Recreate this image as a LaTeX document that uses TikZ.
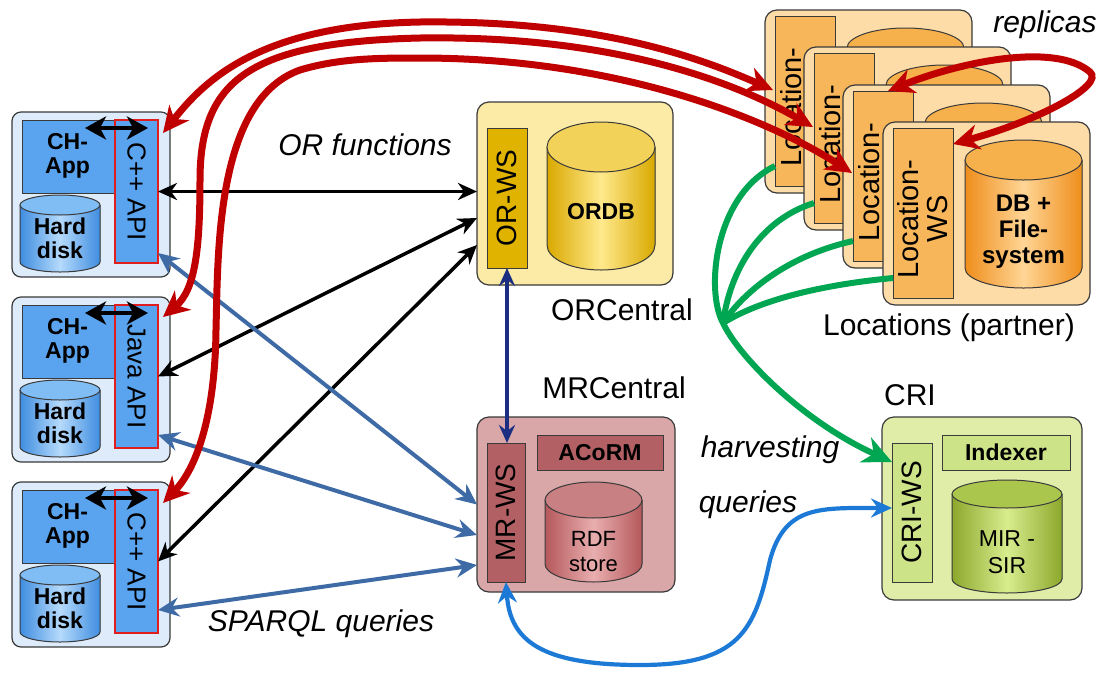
\documentclass[tikz,border=0pt]{standalone}
\usepackage{fontspec}
\setmainfont{Liberation Sans}
\usetikzlibrary{arrows.meta}

\definecolor{frame}{HTML}{3A3A3A}
\definecolor{chbg}{HTML}{DDEBFA}
\definecolor{chblue}{HTML}{5AA3EE}
\definecolor{apired}{HTML}{E01E1E}
\definecolor{diskedge}{HTML}{3F8DE0}
\definecolor{diskmid}{HTML}{B5DAFB}
\definecolor{disktop}{HTML}{80BDF5}
\definecolor{orbg}{HTML}{FCEBA6}
\definecolor{orwsc}{HTML}{E0B300}
\definecolor{oredge}{HTML}{D9A900}
\definecolor{ormid}{HTML}{FFE98C}
\definecolor{ortop}{HTML}{F3D25A}
\definecolor{mrbg}{HTML}{D9A7A8}
\definecolor{mrwsc}{HTML}{B36064}
\definecolor{mredge}{HTML}{B5585B}
\definecolor{mrmid}{HTML}{E9AEAF}
\definecolor{mrtop}{HTML}{C98082}
\definecolor{locbg}{HTML}{FDDCA8}
\definecolor{locwsc}{HTML}{F8B65A}
\definecolor{locedge}{HTML}{EF8E1C}
\definecolor{locmid}{HTML}{FFD595}
\definecolor{loctop}{HTML}{F6B04C}
\definecolor{cribg}{HTML}{DFEDA8}
\definecolor{criwsc}{HTML}{CDE387}
\definecolor{criedge}{HTML}{8CA82C}
\definecolor{crimid}{HTML}{D8EC8E}
\definecolor{critop}{HTML}{AAC64C}
\definecolor{arred}{HTML}{C00000}
\definecolor{arsteel}{HTML}{3E6BA5}
\definecolor{arnavy}{HTML}{1B2E82}
\definecolor{arblue}{HTML}{1C7AD6}
\definecolor{argreen}{HTML}{00A651}

\tikzset{
  outerbox/.style={draw=frame, line width=1.2pt},
  inbox/.style={draw=frame, line width=1pt},
  cylline/.style={draw=frame, line width=1pt},
  bt/.style={font=\fontsize{23}{24}\selectfont\bfseries, align=center, inner sep=0pt},
  rt/.style={font=\fontsize{26}{28}\selectfont, align=center, inner sep=0pt},
  lbl/.style={font=\fontsize{30}{32}\selectfont, inner sep=0pt},
  ilbl/.style={font=\fontsize{30}{32}\selectfont\itshape, inner sep=0pt},
  tipblk/.tip={Stealth[length=19pt,width=17pt,inset=6pt]},
  tipdbl/.tip={Stealth[length=21pt,width=23pt,inset=6pt]},
  tipred/.tip={Stealth[length=26pt,width=25pt,inset=8pt]},
  tipgrn/.tip={Stealth[length=29pt,width=27pt,inset=9pt]},
  tipstl/.tip={Stealth[length=21pt,width=19pt,inset=7pt]},
  tipnav/.tip={Stealth[length=18pt,width=16pt,inset=6pt]},
  blkarr/.style={draw=black, line width=3.5pt, arrows={tipblk-tipblk}},
  dblarr/.style={draw=black, line width=4.5pt, arrows={tipdbl-tipdbl}},
  redarr/.style={draw=arred, line width=7pt, arrows={tipred-tipred}},
  stlarr/.style={draw=arsteel, line width=4pt, arrows={tipstl-tipstl}},
  navarr/.style={draw=arnavy, line width=3.5pt, arrows={tipnav-tipnav}},
  bluarr/.style={draw=arblue, line width=4.2pt, arrows={tipstl-tipstl}},
  grnline/.style={draw=argreen, line width=6pt},
}

\newcommand\rbox[6]{\node[#6, inner sep=0pt, outer sep=0pt,
  minimum width={((#4)-(#2))*1pt}, minimum height={((#5)-(#3))*1pt}]
  (#1) at ({((#2)+(#4))/2},{((#3)+(#5))/2}) {};}

\newcommand\dbcyl[7]{%
  \rbox{#1}{#2}{#3}{#4}{#5}{}
  \fill[left color=#6edge, right color=#6edge, middle color=#6mid]
    ([yshift=-#7pt]#1.north west) -- ([yshift=#7pt]#1.south west)
    arc[start angle=180, end angle=360, x radius={((#4)-(#2))/2*1pt}, y radius=#7pt]
    -- ([yshift=-#7pt]#1.north east) -- cycle;
  \draw[cylline] ([yshift=-#7pt]#1.north west) -- ([yshift=#7pt]#1.south west)
    arc[start angle=180, end angle=360, x radius={((#4)-(#2))/2*1pt}, y radius=#7pt]
    -- ([yshift=-#7pt]#1.north east);
  \draw[cylline, fill=#6top] ([yshift=-#7pt]#1.north)
    ellipse[x radius={((#4)-(#2))/2*1pt}, y radius=#7pt];
}

\begin{document}
\begin{tikzpicture}[x=1pt, y=-1pt]
\useasboundingbox (0,0) rectangle (1104,673);
\fill[white] (0,0) rectangle (1104,673);

% ---------- client boxes ----------
\foreach \k/\T/\apitext in {1/112/{C++ API},2/297/{Java API},3/482/{C++ API}}{
  \rbox{ch\k}{12}{\T}{170}{\T+165}{outerbox, fill=chbg, rounded corners=9pt}
  \rbox{app\k}{22}{\T+8}{117}{\T+81}{inbox, fill=chblue}
  \rbox{api\k}{115}{\T+8}{158}{\T+151}{draw=apired, line width=1.8pt, fill=chblue}
  \dbcyl{disk\k}{20}{\T+83}{100}{\T+160}{disk}{10}
  \node[bt] (tapp\k) at ([xshift=-2pt,yshift=1pt]app\k.center) {CH-\\App};
  \node[bt] (tdisk\k) at ([yshift=-5pt]disk\k.center) {Hard\\disk};
  \node[rt, rotate=-90] (tapi\k) at (api\k.center) {\apitext};
  \draw[dblarr] ([xshift=63pt,yshift=-8pt]app\k.north west) -- ([xshift=31pt,yshift=-8pt]app\k.north east);
}

% ---------- ORCentral ----------
\rbox{orc}{477}{102}{673}{285}{outerbox, fill=orbg, rounded corners=12pt}
\rbox{orws}{487}{128}{527}{268}{inbox, fill=orwsc}
\dbcyl{ordb}{547}{122}{655}{270}{or}{25}
\node[bt] (tordb) at ([yshift=-16pt]ordb.center) {ORDB};
\node[rt, rotate=90, font=\fontsize{28}{30}\selectfont] (torws) at (orws.center) {OR-WS};

% ---------- MRCentral ----------
\rbox{mrc}{477}{417}{675}{592}{outerbox, fill=mrbg, rounded corners=12pt}
\rbox{mrws}{487}{443}{525}{582}{inbox, fill=mrwsc}
\rbox{acorm}{537}{435}{663}{470}{inbox, fill=mrwsc}
\dbcyl{rdf}{545}{482}{642}{582}{mr}{18}
\node[bt] (tacorm) at (acorm.center) {ACoRM};
\node[rt, font=\fontsize{22}{25}\selectfont] (trdf) at ([yshift=-20pt]rdf.center) {RDF\\store};
\node[rt, rotate=90, font=\fontsize{28}{30}\selectfont] (tmrws) at (mrws.center) {MR-WS};

% ---------- CRI ----------
\rbox{cri}{882}{417}{1082}{600}{outerbox, fill=cribg, rounded corners=12pt}
\rbox{criws}{892}{443}{932}{582}{inbox, fill=criwsc}
\rbox{indexer}{942}{435}{1070}{470}{inbox, fill=criwsc}
\dbcyl{mirsir}{952}{480}{1062}{593}{cri}{14}
\node[bt] (tindexer) at (indexer.center) {Indexer};
\node[rt, font=\fontsize{23}{27}\selectfont] (tmir) at ([yshift=-16pt]mirsir.center) {MIR -\\SIR};
\node[rt, rotate=90, font=\fontsize{28}{30}\selectfont] (tcriws) at (criws.center) {CRI-WS};

% ---------- Locations (three replicas behind, partner in front) ----------
\foreach \i/\xo/\yo in {1/765/10, 2/804/47, 3/843/85}{
  \rbox{loc\i}{\xo}{\yo}{\xo+207}{\yo+183}{outerbox, fill=locbg, rounded corners=12pt}
  \rbox{locws\i}{\xo+10}{\yo+6}{\xo+70}{\yo+176}{inbox, fill=locwsc}
  \dbcyl{locdb\i}{\xo+82}{\yo+18}{\xo+199}{\yo+166}{loc}{20}
  \node[rt, rotate=90, font=\fontsize{29}{29}\selectfont] (tlocws\i) at ([xshift=-14pt,yshift=-6pt]locws\i.center) {Location-};
}
\rbox{loc4}{883}{122}{1090}{305}{outerbox, fill=locbg, rounded corners=12pt}
\rbox{locws4}{893}{128}{953}{298}{inbox, fill=locwsc}
\dbcyl{locdb4}{965}{140}{1082}{288}{loc}{20}
\node[rt, rotate=90, font=\fontsize{29}{29}\selectfont] (tlocws4) at ([yshift=-6pt]locws4.center) {Location-\\WS};
\node[bt, font=\fontsize{24}{26}\selectfont\bfseries] (tlocdb4) at ([yshift=-18pt]locdb4.center) {DB +\\File-\\system};

% ---------- labels ----------
\node[ilbl] (lorf) at (365,145) {OR functions};
\node[lbl] (lorc) at (622,310) {ORCentral};
\node[lbl] (lmrc) at (614,388) {MRCentral};
\node[lbl] (lloc) at (949,328) {Locations (partner)};
\node[lbl] (lcri) at (910,395) {CRI};
\node[ilbl] (lrep) at (1045,25) {replicas};
\node[ilbl] (lspq) at (321,624) {SPARQL queries};
\node[ilbl] (lharv) at (770,450) {harvesting};
\node[ilbl] (lqry) at (748,505) {queries};

% ---------- OR functions (black) ----------
\draw[blkarr] (api1.east) -- (api1.east -| orc.west);
\draw[blkarr] (api2.east) -- ([yshift=-24.5pt]orc.west);
\draw[blkarr] (api3.east) -- ([yshift=-51.5pt]orc.west);

% ---------- SPARQL (steel blue) ----------
\draw[stlarr] ([yshift=-61.5pt]api1.east) -- (mrc.west);
\draw[stlarr] ([yshift=-58.5pt]api2.east) -- ([yshift=-30.5pt]mrc.west);
\draw[stlarr] ([yshift=-48.5pt]api3.east) -- ([yshift=-60.5pt]mrc.west);

% ---------- OR-WS <-> MR-WS ----------
\draw[navarr] (orws.south) -- (orws.south |- mrws.north);

% ---------- queries (blue curve) ----------
\draw[bluarr] (mrws.south) .. controls (510,640) and (540,665) .. (640,665)
  .. controls (740,665) and (755,630) .. (770,560)
  .. controls (785,505) and (820,508) .. ([yshift=4.5pt]criws.west);

% ---------- harvesting (green) ----------
\coordinate (hub) at (723,323);
\draw[grnline] ([yshift=20pt]locws2.south west) .. controls (760,220) and (730,270) .. (hub);
\draw[grnline] ([yshift=20pt]locws3.south west) .. controls (790,255) and (745,290) .. (hub);
\draw[grnline] ([yshift=20pt]locws4.south west) .. controls (820,285) and (760,300) .. (hub);
\draw[grnline, arrows={-tipgrn}] ([yshift=20pt]locws1.south west) .. controls (715,195) and (705,290) .. (hub)
  .. controls (738,355) and (800,420) .. ([yshift=50.5pt]criws.west);

% ---------- replication (red) ----------
\draw[redarr] ([xshift=5pt,yshift=-13pt]api1.north east) .. controls (205,80) and (260,25) .. (420,22)
  .. controls (600,20) and (700,58) .. ([xshift=-2pt,yshift=11pt]locws1.west);
\draw[redarr] ([xshift=5pt,yshift=-12pt]api2.north east) .. controls (195,290) and (200,250) .. (200,180)
  .. controls (200,80) and (250,42) .. (420,38)
  .. controls (620,35) and (740,85) .. ([xshift=-1pt,yshift=11pt]locws2.west);
\draw[redarr] ([xshift=5pt,yshift=-13pt]api3.north east) .. controls (195,470) and (215,420) .. (216,330)
  .. controls (218,250) and (216,100) .. (300,70)
  .. controls (340,58) and (380,58) .. (420,58)
  .. controls (620,58) and (770,120) .. ([xshift=-1pt,yshift=3pt]locws3.west);
\draw[redarr] ([xshift=-25pt]locws3.north east) .. controls (960,62) and (1055,42) .. (1090,72)
  .. controls (1105,85) and (1040,120) .. ([yshift=-16pt]locws4.north east);

\end{tikzpicture}
\end{document}
